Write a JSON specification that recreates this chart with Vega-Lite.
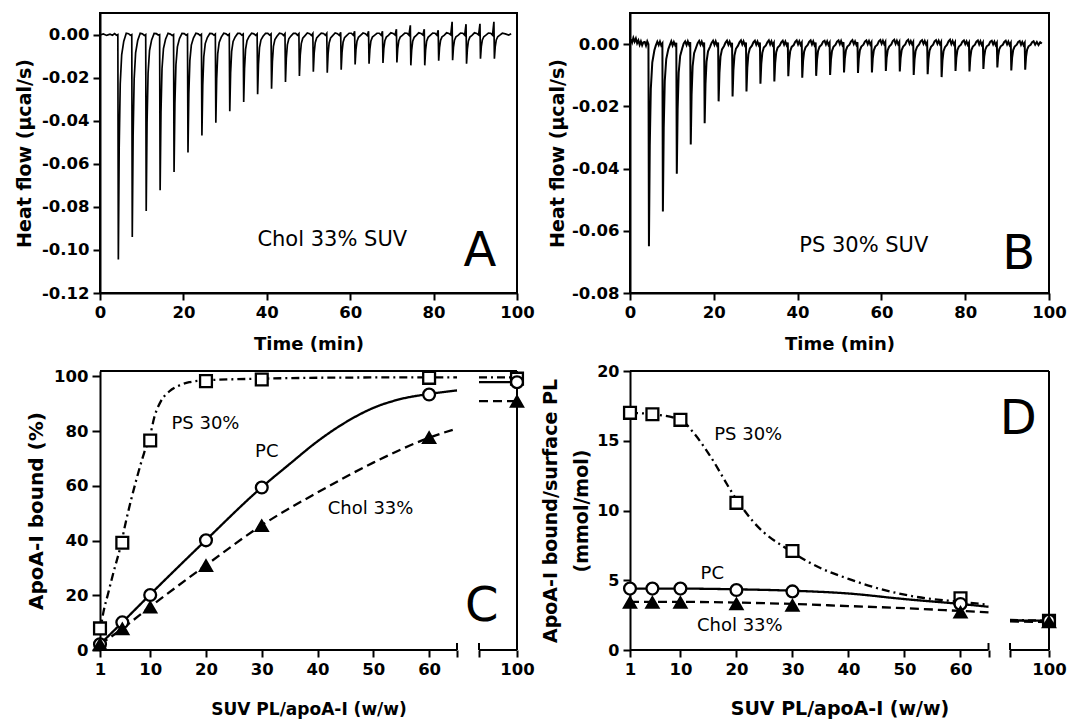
{
"$schema": "https://vega.github.io/schema/vega-lite/v6.json",
"padding": {"left": 14, "top": 12, "right": 5, "bottom": 2},
"columns": 2,
"spacing": {"row": 78, "column": 113},
"bounds": "flush",
"config": {
 "view": {"stroke": "black", "strokeWidth": 2},
 "font": "DejaVu Sans",
 "axis": {"domainColor": "black", "domainWidth": 2, "tickColor": "black", "tickWidth": 2, "tickSize": 7, "labelColor": "black", "labelFont": "DejaVu Sans", "labelFontSize": 16.5, "labelFontWeight": "bold", "labelPadding": 4, "labelFlush": false, "labelOverlap": false, "labelBound": false, "titleColor": "black", "titleFont": "DejaVu Sans", "titleFontSize": 18, "titleFontWeight": "bold", "grid": false},
 "text": {"color": "black", "font": "DejaVu Sans"},
 "locale": {"number": {"decimal": ".", "thousands": ",", "grouping": [3], "currency": ["$", ""], "minus": "-"}}
},
"datasets": {
"a": [
{"t":0,"v":-0.0002},{"t":0.8,"v":0.0003},{"t":1.6,"v":-0.0004},{"t":2.4,"v":0.0002},{"t":3.0,"v":-0.0003},
{"t":3.50,"v":0.0004},{"t":3.95,"v":-0.0003},{"t":4.28,"v":0},{"t":4.40,"v":-0.1045},{"t":4.60,"v":-0.0523},{"t":4.85,"v":-0.023},{"t":5.20,"v":-0.0094},{"t":5.70,"v":-0.0031},{"t":6.30,"v":0.0006},
{"t":6.84,"v":0.0004},{"t":7.29,"v":-0.0003},{"t":7.62,"v":0},{"t":7.74,"v":-0.094},{"t":7.94,"v":-0.047},{"t":8.19,"v":-0.0207},{"t":8.54,"v":-0.0085},{"t":9.04,"v":-0.0028},{"t":9.64,"v":0.0006},
{"t":10.18,"v":0.0003},{"t":10.63,"v":-0.0004},{"t":10.96,"v":0},{"t":11.08,"v":-0.0819},{"t":11.28,"v":-0.041},{"t":11.53,"v":-0.018},{"t":11.88,"v":-0.0074},{"t":12.38,"v":-0.0025},{"t":12.98,"v":0.0005},
{"t":13.52,"v":0.0004},{"t":13.97,"v":-0.0002},{"t":14.30,"v":0},{"t":14.42,"v":-0.0723},{"t":14.62,"v":-0.0362},{"t":14.87,"v":-0.0159},{"t":15.22,"v":-0.0065},{"t":15.72,"v":-0.0022},{"t":16.32,"v":0.0006},
{"t":16.86,"v":0.0002},{"t":17.31,"v":-0.0004},{"t":17.64,"v":0},{"t":17.76,"v":-0.0638},{"t":17.96,"v":-0.0319},{"t":18.21,"v":-0.014},{"t":18.56,"v":-0.0057},{"t":19.06,"v":-0.0019},{"t":19.66,"v":0.0005},
{"t":20.20,"v":0.0004},{"t":20.65,"v":-0.0003},{"t":20.98,"v":0.0001},{"t":21.10,"v":-0.0548},{"t":21.30,"v":-0.0274},{"t":21.55,"v":-0.0121},{"t":21.90,"v":-0.0049},{"t":22.40,"v":-0.0016},{"t":23.00,"v":0.0006},
{"t":23.54,"v":0.0003},{"t":23.99,"v":-0.0004},{"t":24.32,"v":0.0001},{"t":24.44,"v":-0.0469},{"t":24.64,"v":-0.0235},{"t":24.89,"v":-0.0103},{"t":25.24,"v":-0.0042},{"t":25.74,"v":-0.0014},{"t":26.34,"v":0.0005},
{"t":26.88,"v":0.0004},{"t":27.33,"v":-0.0003},{"t":27.66,"v":0.0002},{"t":27.78,"v":-0.0409},{"t":27.98,"v":-0.0205},{"t":28.23,"v":-0.009},{"t":28.58,"v":-0.0037},{"t":29.08,"v":-0.0012},{"t":29.68,"v":0.0006},
{"t":30.22,"v":0.0003},{"t":30.67,"v":-0.0004},{"t":31.00,"v":0.0002},{"t":31.12,"v":-0.0356},{"t":31.32,"v":-0.0178},{"t":31.57,"v":-0.0078},{"t":31.92,"v":-0.0032},{"t":32.42,"v":-0.0011},{"t":33.02,"v":0.0005},
{"t":33.56,"v":0.0005},{"t":34.01,"v":-0.0003},{"t":34.34,"v":0.0002},{"t":34.46,"v":-0.0313},{"t":34.66,"v":-0.0157},{"t":34.91,"v":-0.0069},{"t":35.26,"v":-0.0028},{"t":35.76,"v":-0.0009},{"t":36.36,"v":0.0006},
{"t":36.90,"v":0.0003},{"t":37.35,"v":-0.0004},{"t":37.68,"v":0.0003},{"t":37.80,"v":-0.0277},{"t":38.00,"v":-0.0139},{"t":38.25,"v":-0.0061},{"t":38.60,"v":-0.0025},{"t":39.10,"v":-0.0008},{"t":39.70,"v":0.0005},
{"t":40.24,"v":0.0005},{"t":40.69,"v":-0.0003},{"t":41.02,"v":0.0003},{"t":41.14,"v":-0.0252},{"t":41.34,"v":-0.0126},{"t":41.59,"v":-0.0055},{"t":41.94,"v":-0.0023},{"t":42.44,"v":-0.0008},{"t":43.04,"v":0.0006},
{"t":43.58,"v":0.0004},{"t":44.03,"v":-0.0004},{"t":44.36,"v":0.0004},{"t":44.48,"v":-0.022},{"t":44.68,"v":-0.011},{"t":44.93,"v":-0.0048},{"t":45.28,"v":-0.002},{"t":45.78,"v":-0.0007},{"t":46.38,"v":0.0005},
{"t":46.92,"v":0.0005},{"t":47.37,"v":-0.0003},{"t":47.70,"v":0.0004},{"t":47.82,"v":-0.0192},{"t":48.02,"v":-0.0096},{"t":48.27,"v":-0.0042},{"t":48.62,"v":-0.0017},{"t":49.12,"v":-0.0006},{"t":49.72,"v":0.0007},
{"t":50.26,"v":0.0004},{"t":50.71,"v":-0.0004},{"t":51.04,"v":0.0005},{"t":51.16,"v":-0.0173},{"t":51.36,"v":-0.0087},{"t":51.61,"v":-0.0038},{"t":51.96,"v":-0.0016},{"t":52.46,"v":-0.0005},{"t":53.06,"v":0.0006},
{"t":53.60,"v":0.0005},{"t":54.05,"v":-0.0003},{"t":54.38,"v":0.0006},{"t":54.50,"v":-0.0177},{"t":54.70,"v":-0.0089},{"t":54.95,"v":-0.0039},{"t":55.30,"v":-0.0016},{"t":55.80,"v":-0.0005},{"t":56.40,"v":0.0007},
{"t":56.94,"v":0.0004},{"t":57.39,"v":-0.0004},{"t":57.72,"v":0.001},{"t":57.84,"v":-0.0163},{"t":58.04,"v":-0.0082},{"t":58.29,"v":-0.0036},{"t":58.64,"v":-0.0015},{"t":59.14,"v":-0.0005},{"t":59.74,"v":0.0006},
{"t":60.28,"v":0.0006},{"t":60.73,"v":-0.0003},{"t":61.06,"v":0.0015},{"t":61.18,"v":-0.0139},{"t":61.38,"v":-0.007},{"t":61.63,"v":-0.0031},{"t":61.98,"v":-0.0013},{"t":62.48,"v":-0.0004},{"t":63.08,"v":0.0007},
{"t":63.62,"v":0.0004},{"t":64.07,"v":-0.0004},{"t":64.40,"v":0.0015},{"t":64.52,"v":-0.0135},{"t":64.72,"v":-0.0068},{"t":64.97,"v":-0.003},{"t":65.32,"v":-0.0012},{"t":65.82,"v":-0.0004},{"t":66.42,"v":0.0006},
{"t":66.96,"v":0.0006},{"t":67.41,"v":-0.0003},{"t":67.74,"v":0.0015},{"t":67.86,"v":-0.0132},{"t":68.06,"v":-0.0066},{"t":68.31,"v":-0.0029},{"t":68.66,"v":-0.0012},{"t":69.16,"v":-0.0004},{"t":69.76,"v":0.0008},
{"t":70.30,"v":0.0005},{"t":70.75,"v":-0.0002},{"t":71.08,"v":0.0025},{"t":71.20,"v":-0.013},{"t":71.40,"v":-0.0065},{"t":71.65,"v":-0.0029},{"t":72.00,"v":-0.0012},{"t":72.50,"v":-0.0004},{"t":73.10,"v":0.0007},
{"t":73.64,"v":0.0006},{"t":74.09,"v":-0.0003},{"t":74.42,"v":0.0043},{"t":74.54,"v":-0.0143},{"t":74.74,"v":-0.0072},{"t":74.99,"v":-0.0031},{"t":75.34,"v":-0.0013},{"t":75.84,"v":-0.0004},{"t":76.44,"v":0.0008},
{"t":76.98,"v":0.0005},{"t":77.43,"v":-0.0002},{"t":77.76,"v":0.0025},{"t":77.88,"v":-0.0143},{"t":78.08,"v":-0.0072},{"t":78.33,"v":-0.0031},{"t":78.68,"v":-0.0013},{"t":79.18,"v":-0.0004},{"t":79.78,"v":0.0007},
{"t":80.32,"v":0.0006},{"t":80.77,"v":-0.0003},{"t":81.10,"v":0.002},{"t":81.22,"v":-0.0122},{"t":81.42,"v":-0.0061},{"t":81.67,"v":-0.0027},{"t":82.02,"v":-0.0011},{"t":82.52,"v":-0.0004},{"t":83.12,"v":0.0008},
{"t":83.66,"v":0.0005},{"t":84.11,"v":-0.0002},{"t":84.44,"v":0.0059},{"t":84.56,"v":-0.0119},{"t":84.76,"v":-0.006},{"t":85.01,"v":-0.0026},{"t":85.36,"v":-0.0011},{"t":85.86,"v":-0.0004},{"t":86.46,"v":0.0007},
{"t":87.00,"v":0.0006},{"t":87.45,"v":-0.0003},{"t":87.78,"v":0.0048},{"t":87.90,"v":-0.0135},{"t":88.10,"v":-0.0068},{"t":88.35,"v":-0.003},{"t":88.70,"v":-0.0012},{"t":89.20,"v":-0.0004},{"t":89.80,"v":0.0008},
{"t":90.34,"v":0.0005},{"t":90.79,"v":-0.0002},{"t":91.12,"v":0.005},{"t":91.24,"v":-0.0112},{"t":91.44,"v":-0.0056},{"t":91.69,"v":-0.0025},{"t":92.04,"v":-0.001},{"t":92.54,"v":-0.0003},{"t":93.14,"v":0.0007},
{"t":93.68,"v":0.0006},{"t":94.13,"v":-0.0003},{"t":94.46,"v":0.0059},{"t":94.58,"v":-0.0112},{"t":94.78,"v":-0.0056},{"t":95.03,"v":-0.0025},{"t":95.38,"v":-0.001},{"t":95.88,"v":-0.0003},{"t":96.48,"v":0.0006},
{"t":97.2,"v":0.0003},{"t":98.0,"v":-0.0002},{"t":98.6,"v":0.0004}
],
"b": [
{"t":0.2,"v":0.0015},{"t":0.5,"v":0.0005},{"t":0.8,"v":0.002},{"t":1.1,"v":0.0008},{"t":1.4,"v":0.0018},{"t":1.7,"v":0.0003},{"t":2.0,"v":0.0012},{"t":2.3,"v":-0.0002},{"t":2.6,"v":0.0009},{"t":2.9,"v":-0.0004},{"t":3.2,"v":0.0006},
{"t":3.52,"v":0.0007},{"t":3.82,"v":-0.0005},{"t":4.12,"v":0.0009},{"t":4.40,"v":0},{"t":4.52,"v":-0.065},{"t":4.72,"v":-0.0325},{"t":4.97,"v":-0.0143},{"t":5.32,"v":-0.0059},{"t":5.82,"v":-0.002},{"t":6.17,"v":-0.0004},{"t":6.52,"v":0.0008},
{"t":6.85,"v":-0.0003},{"t":7.15,"v":0.0008},{"t":7.45,"v":-0.0004},{"t":7.73,"v":0.0002},{"t":7.85,"v":-0.0538},{"t":8.05,"v":-0.0269},{"t":8.30,"v":-0.0118},{"t":8.65,"v":-0.0048},{"t":9.15,"v":-0.0016},{"t":9.50,"v":-0.0003},{"t":9.85,"v":0.0009},
{"t":10.17,"v":-0.0004},{"t":10.47,"v":0.0007},{"t":10.77,"v":-0.0003},{"t":11.05,"v":0.0004},{"t":11.17,"v":-0.0417},{"t":11.37,"v":-0.0209},{"t":11.62,"v":-0.0092},{"t":11.97,"v":-0.0038},{"t":12.47,"v":-0.0013},{"t":12.82,"v":0.0002},{"t":13.17,"v":0.0009},
{"t":13.50,"v":-0.0003},{"t":13.80,"v":0.0009},{"t":14.10,"v":-0.0002},{"t":14.38,"v":0.0006},{"t":14.50,"v":-0.0323},{"t":14.70,"v":-0.0162},{"t":14.95,"v":-0.0071},{"t":15.30,"v":-0.0029},{"t":15.80,"v":-0.001},{"t":16.15,"v":0.0003},{"t":16.50,"v":0.001},
{"t":16.82,"v":-0.0002},{"t":17.12,"v":0.0008},{"t":17.42,"v":-0.0003},{"t":17.70,"v":0.0005},{"t":17.82,"v":-0.0254},{"t":18.02,"v":-0.0127},{"t":18.27,"v":-0.0056},{"t":18.62,"v":-0.0023},{"t":19.12,"v":-0.0008},{"t":19.47,"v":0.0004},{"t":19.82,"v":0.0011},
{"t":20.15,"v":-0.0002},{"t":20.45,"v":0.0009},{"t":20.75,"v":-0.0003},{"t":21.03,"v":0.0005},{"t":21.15,"v":-0.0184},{"t":21.35,"v":-0.0092},{"t":21.60,"v":-0.004},{"t":21.95,"v":-0.0017},{"t":22.45,"v":-0.0006},{"t":22.80,"v":0.0005},{"t":23.15,"v":0.0011},
{"t":23.48,"v":-0.0002},{"t":23.78,"v":0.0008},{"t":24.08,"v":-0.0004},{"t":24.36,"v":0.0004},{"t":24.48,"v":-0.0168},{"t":24.68,"v":-0.0084},{"t":24.93,"v":-0.0037},{"t":25.28,"v":-0.0015},{"t":25.78,"v":-0.0005},{"t":26.13,"v":0.0006},{"t":26.48,"v":0.0012},
{"t":26.80,"v":-0.0001},{"t":27.10,"v":0.0009},{"t":27.40,"v":-0.0003},{"t":27.68,"v":0.0005},{"t":27.80,"v":-0.0152},{"t":28.00,"v":-0.0076},{"t":28.25,"v":-0.0033},{"t":28.60,"v":-0.0014},{"t":29.10,"v":-0.0005},{"t":29.45,"v":0.0006},{"t":29.80,"v":0.0011},
{"t":30.13,"v":-0.0002},{"t":30.43,"v":0.0008},{"t":30.73,"v":-0.0003},{"t":31.01,"v":0.0005},{"t":31.13,"v":-0.0127},{"t":31.33,"v":-0.0064},{"t":31.58,"v":-0.0028},{"t":31.93,"v":-0.0011},{"t":32.43,"v":-0.0004},{"t":32.78,"v":0.0006},{"t":33.13,"v":0.0012},
{"t":33.45,"v":-0.0001},{"t":33.75,"v":0.0009},{"t":34.05,"v":-0.0003},{"t":34.33,"v":0.0004},{"t":34.45,"v":-0.012},{"t":34.65,"v":-0.006},{"t":34.90,"v":-0.0026},{"t":35.25,"v":-0.0011},{"t":35.75,"v":-0.0004},{"t":36.10,"v":0.0006},{"t":36.45,"v":0.0011},
{"t":36.78,"v":-0.0002},{"t":37.08,"v":0.0008},{"t":37.38,"v":-0.0003},{"t":37.66,"v":0.0005},{"t":37.78,"v":-0.0103},{"t":37.98,"v":-0.0052},{"t":38.23,"v":-0.0023},{"t":38.58,"v":-0.0009},{"t":39.08,"v":-0.0003},{"t":39.43,"v":0.0007},{"t":39.78,"v":0.0012},
{"t":40.11,"v":-0.0001},{"t":40.41,"v":0.0009},{"t":40.71,"v":-0.0002},{"t":40.99,"v":0.0005},{"t":41.11,"v":-0.0108},{"t":41.31,"v":-0.0054},{"t":41.56,"v":-0.0024},{"t":41.91,"v":-0.001},{"t":42.41,"v":-0.0003},{"t":42.76,"v":0.0007},{"t":43.11,"v":0.0012},
{"t":43.43,"v":-0.0001},{"t":43.73,"v":0.0009},{"t":44.03,"v":-0.0003},{"t":44.31,"v":0.0005},{"t":44.43,"v":-0.0102},{"t":44.63,"v":-0.0051},{"t":44.88,"v":-0.0022},{"t":45.23,"v":-0.0009},{"t":45.73,"v":-0.0002},{"t":46.08,"v":0.0008},{"t":46.43,"v":0.0011},
{"t":46.76,"v":-0.0001},{"t":47.06,"v":0.0009},{"t":47.36,"v":-0.0002},{"t":47.64,"v":0.0005},{"t":47.76,"v":-0.0099},{"t":47.96,"v":-0.005},{"t":48.21,"v":-0.0022},{"t":48.56,"v":-0.0009},{"t":49.06,"v":-0.0002},{"t":49.41,"v":0.0008},{"t":49.76,"v":0.0012},
{"t":50.08,"v":0},{"t":50.38,"v":0.001},{"t":50.68,"v":-0.0002},{"t":50.96,"v":0.0006},{"t":51.08,"v":-0.0091},{"t":51.28,"v":-0.0046},{"t":51.53,"v":-0.002},{"t":51.88,"v":-0.0008},{"t":52.38,"v":-0.0002},{"t":52.73,"v":0.0008},{"t":53.08,"v":0.0013},
{"t":53.41,"v":0},{"t":53.71,"v":0.0009},{"t":54.01,"v":-0.0002},{"t":54.29,"v":0.0006},{"t":54.41,"v":-0.0093},{"t":54.61,"v":-0.0047},{"t":54.86,"v":-0.002},{"t":55.21,"v":-0.0008},{"t":55.71,"v":-0.0002},{"t":56.06,"v":0.0008},{"t":56.41,"v":0.0012},
{"t":56.74,"v":0},{"t":57.04,"v":0.001},{"t":57.34,"v":-0.0001},{"t":57.62,"v":0.0006},{"t":57.74,"v":-0.0091},{"t":57.94,"v":-0.0046},{"t":58.19,"v":-0.002},{"t":58.54,"v":-0.0008},{"t":59.04,"v":-0.0002},{"t":59.39,"v":0.0009},{"t":59.74,"v":0.0013},
{"t":60.06,"v":0.0001},{"t":60.36,"v":0.0011},{"t":60.66,"v":0},{"t":60.94,"v":0.0007},{"t":61.06,"v":-0.0086},{"t":61.26,"v":-0.0043},{"t":61.51,"v":-0.0019},{"t":61.86,"v":-0.0008},{"t":62.36,"v":-0.0001},{"t":62.71,"v":0.001},{"t":63.06,"v":0.0014},
{"t":63.39,"v":0.0001},{"t":63.69,"v":0.0011},{"t":63.99,"v":0},{"t":64.27,"v":0.0007},{"t":64.39,"v":-0.0088},{"t":64.59,"v":-0.0044},{"t":64.84,"v":-0.0019},{"t":65.19,"v":-0.0008},{"t":65.69,"v":-0.0001},{"t":66.04,"v":0.001},{"t":66.39,"v":0.0014},
{"t":66.71,"v":0.0001},{"t":67.01,"v":0.001},{"t":67.31,"v":0},{"t":67.59,"v":0.0007},{"t":67.71,"v":-0.0099},{"t":67.91,"v":-0.005},{"t":68.16,"v":-0.0022},{"t":68.51,"v":-0.0009},{"t":69.01,"v":-0.0001},{"t":69.36,"v":0.0009},{"t":69.71,"v":0.0013},
{"t":70.04,"v":0.0001},{"t":70.34,"v":0.001},{"t":70.64,"v":-0.0001},{"t":70.92,"v":0.0006},{"t":71.04,"v":-0.0097},{"t":71.24,"v":-0.0049},{"t":71.49,"v":-0.0021},{"t":71.84,"v":-0.0009},{"t":72.34,"v":-0.0002},{"t":72.69,"v":0.0009},{"t":73.04,"v":0.0013},
{"t":73.37,"v":0.0001},{"t":73.67,"v":0.0011},{"t":73.97,"v":0},{"t":74.25,"v":0.0007},{"t":74.37,"v":-0.0106},{"t":74.57,"v":-0.0053},{"t":74.82,"v":-0.0023},{"t":75.17,"v":-0.001},{"t":75.67,"v":-0.0002},{"t":76.02,"v":0.0009},{"t":76.37,"v":0.0014},
{"t":76.69,"v":0},{"t":76.99,"v":0.001},{"t":77.29,"v":-0.0001},{"t":77.57,"v":0.0006},{"t":77.69,"v":-0.0086},{"t":77.89,"v":-0.0043},{"t":78.14,"v":-0.0019},{"t":78.49,"v":-0.0008},{"t":78.99,"v":-0.0002},{"t":79.34,"v":0.0008},{"t":79.69,"v":0.0012},
{"t":80.02,"v":0},{"t":80.32,"v":0.0009},{"t":80.62,"v":-0.0002},{"t":80.90,"v":0.0005},{"t":81.02,"v":-0.0088},{"t":81.22,"v":-0.0044},{"t":81.47,"v":-0.0019},{"t":81.82,"v":-0.0008},{"t":82.32,"v":-0.0002},{"t":82.67,"v":0.0008},{"t":83.02,"v":0.0012},
{"t":83.34,"v":-0.0001},{"t":83.64,"v":0.0009},{"t":83.94,"v":-0.0002},{"t":84.22,"v":0.0005},{"t":84.34,"v":-0.008},{"t":84.54,"v":-0.004},{"t":84.79,"v":-0.0018},{"t":85.14,"v":-0.0007},{"t":85.64,"v":-0.0002},{"t":85.99,"v":0.0008},{"t":86.34,"v":0.0011},
{"t":86.67,"v":-0.0001},{"t":86.97,"v":0.0008},{"t":87.27,"v":-0.0003},{"t":87.55,"v":0.0004},{"t":87.67,"v":-0.0075},{"t":87.87,"v":-0.0038},{"t":88.12,"v":-0.0017},{"t":88.47,"v":-0.0007},{"t":88.97,"v":-0.0002},{"t":89.32,"v":0.0007},{"t":89.67,"v":0.0011},
{"t":90.00,"v":-0.0001},{"t":90.30,"v":0.0008},{"t":90.60,"v":-0.0003},{"t":90.88,"v":0.0004},{"t":91.00,"v":-0.0085},{"t":91.20,"v":-0.0043},{"t":91.45,"v":-0.0019},{"t":91.80,"v":-0.0008},{"t":92.30,"v":-0.0002},{"t":92.65,"v":0.0007},{"t":93.00,"v":0.001},
{"t":93.32,"v":-0.0002},{"t":93.62,"v":0.0007},{"t":93.92,"v":-0.0003},{"t":94.20,"v":0.0004},{"t":94.32,"v":-0.0082},{"t":94.52,"v":-0.0041},{"t":94.77,"v":-0.0018},{"t":95.12,"v":-0.0007},{"t":95.62,"v":-0.0002},{"t":95.97,"v":0.0006},{"t":96.32,"v":0.0009},
{"t":96.7,"v":-0.0002},{"t":97.1,"v":0.0007},{"t":97.5,"v":-0.0003},{"t":97.9,"v":0.0006},{"t":98.3,"v":0.0002}
],
"cpts": [
{"s":"PS","x":1,"y":7.9},{"s":"PS","x":5,"y":39.2},{"s":"PS","x":10,"y":76.6},{"s":"PS","x":20,"y":98.3},{"s":"PS","x":30,"y":98.9},{"s":"PS","x":60,"y":99.5},{"s":"PS","x":100,"y":99.2},
{"s":"PC","x":1,"y":2.1},{"s":"PC","x":5,"y":10.1},{"s":"PC","x":10,"y":20.1},{"s":"PC","x":20,"y":40.1},{"s":"PC","x":30,"y":59.4},{"s":"PC","x":60,"y":93.4},{"s":"PC","x":100,"y":97.9},
{"s":"Chol","x":1,"y":2.0},{"s":"Chol","x":5,"y":7.7},{"s":"Chol","x":10,"y":15.6},{"s":"Chol","x":20,"y":30.8},{"s":"Chol","x":30,"y":45.4},{"s":"Chol","x":60,"y":77.6},{"s":"Chol","x":100,"y":90.9}
],
"ccurve": [
{"s":"PS","seg":1,"x":1,"y":6},{"s":"PS","seg":1,"x":1.45,"y":12},{"s":"PS","seg":1,"x":2.5,"y":21},{"s":"PS","seg":1,"x":3.5,"y":29},{"s":"PS","seg":1,"x":4.7,"y":38},{"s":"PS","seg":1,"x":5.64,"y":46.9},{"s":"PS","seg":1,"x":7.43,"y":61.6},{"s":"PS","seg":1,"x":8.9,"y":72},{"s":"PS","seg":1,"x":10,"y":78.5},{"s":"PS","seg":1,"x":10.7,"y":84.8},{"s":"PS","seg":1,"x":11.9,"y":90.9},{"s":"PS","seg":1,"x":13.4,"y":94.5},{"s":"PS","seg":1,"x":15.2,"y":96.7},{"s":"PS","seg":1,"x":17,"y":97.9},{"s":"PS","seg":1,"x":20,"y":98.6},{"s":"PS","seg":1,"x":30,"y":99.2},{"s":"PS","seg":1,"x":45,"y":99.6},{"s":"PS","seg":1,"x":65,"y":99.7},
{"s":"PS","seg":2,"x":93,"y":99.7},{"s":"PS","seg":2,"x":100,"y":99.7},
{"s":"PC","seg":1,"x":1,"y":2.1},{"s":"PC","seg":1,"x":5,"y":10.1},{"s":"PC","seg":1,"x":10,"y":20.3},{"s":"PC","seg":1,"x":20,"y":40.2},{"s":"PC","seg":1,"x":30,"y":59.5},{"s":"PC","seg":1,"x":35,"y":68},{"s":"PC","seg":1,"x":40,"y":76.3},{"s":"PC","seg":1,"x":45,"y":83.2},{"s":"PC","seg":1,"x":50,"y":88.5},{"s":"PC","seg":1,"x":55,"y":91.8},{"s":"PC","seg":1,"x":60,"y":93.6},{"s":"PC","seg":1,"x":65,"y":94.9},
{"s":"PC","seg":2,"x":93,"y":97.9},{"s":"PC","seg":2,"x":100,"y":97.9},
{"s":"Chol","seg":1,"x":1,"y":2},{"s":"Chol","seg":1,"x":5,"y":7.8},{"s":"Chol","seg":1,"x":10,"y":15.8},{"s":"Chol","seg":1,"x":20,"y":31},{"s":"Chol","seg":1,"x":30,"y":45.6},{"s":"Chol","seg":1,"x":40,"y":57.6},{"s":"Chol","seg":1,"x":50,"y":68.5},{"s":"Chol","seg":1,"x":60,"y":77.6},{"s":"Chol","seg":1,"x":65,"y":81},
{"s":"Chol","seg":2,"x":93,"y":91},{"s":"Chol","seg":2,"x":100,"y":91}
],
"cframe": [
{"x":1,"x2":100,"y":102,"y2":102},{"x":100,"x2":100,"y":0,"y2":102},{"x":1,"x2":65,"y":0,"y2":0},{"x":93,"x2":100,"y":0,"y2":0},{"x":65,"x2":65,"y":0,"y2":2.6},{"x":93,"x2":93,"y":0,"y2":2.6}
],
"ctext": [
{"x":19.9,"y":82.7,"label":"PS 30%"},{"x":30.9,"y":72.4,"label":"PC"},{"x":49.5,"y":51.5,"label":"Chol 33%"}
],
"dpts": [
{"s":"PS","x":1,"y":17.0},{"s":"PS","x":5,"y":16.9},{"s":"PS","x":10,"y":16.5},{"s":"PS","x":20,"y":10.55},{"s":"PS","x":30,"y":7.1},{"s":"PS","x":60,"y":3.7},{"s":"PS","x":100,"y":2.1},
{"s":"PC","x":1,"y":4.4},{"s":"PC","x":5,"y":4.4},{"s":"PC","x":10,"y":4.4},{"s":"PC","x":20,"y":4.3},{"s":"PC","x":30,"y":4.2},{"s":"PC","x":60,"y":3.3},{"s":"PC","x":100,"y":2.1},
{"s":"Chol","x":1,"y":3.4},{"s":"Chol","x":5,"y":3.4},{"s":"Chol","x":10,"y":3.4},{"s":"Chol","x":20,"y":3.3},{"s":"Chol","x":30,"y":3.2},{"s":"Chol","x":60,"y":2.7},{"s":"Chol","x":100,"y":2.0}
],
"dcurve": [
{"s":"PS","seg":1,"x":1,"y":17},{"s":"PS","seg":1,"x":5,"y":16.9},{"s":"PS","seg":1,"x":10,"y":16.5},{"s":"PS","seg":1,"x":12.5,"y":15.5},{"s":"PS","seg":1,"x":15,"y":14.1},{"s":"PS","seg":1,"x":20,"y":10.8},{"s":"PS","seg":1,"x":23,"y":9.2},{"s":"PS","seg":1,"x":30,"y":7.0},{"s":"PS","seg":1,"x":35.4,"y":5.8},{"s":"PS","seg":1,"x":40,"y":5.1},{"s":"PS","seg":1,"x":44.6,"y":4.5},{"s":"PS","seg":1,"x":50.8,"y":3.9},{"s":"PS","seg":1,"x":60,"y":3.45},{"s":"PS","seg":1,"x":65,"y":3.25},
{"s":"PS","seg":2,"x":93,"y":2.15},{"s":"PS","seg":2,"x":100,"y":2.1},
{"s":"PC","seg":1,"x":1,"y":4.4},{"s":"PC","seg":1,"x":10,"y":4.4},{"s":"PC","seg":1,"x":20,"y":4.35},{"s":"PC","seg":1,"x":30,"y":4.25},{"s":"PC","seg":1,"x":40,"y":4.05},{"s":"PC","seg":1,"x":50,"y":3.65},{"s":"PC","seg":1,"x":60,"y":3.3},{"s":"PC","seg":1,"x":65,"y":3.1},
{"s":"PC","seg":2,"x":93,"y":2.12},{"s":"PC","seg":2,"x":100,"y":2.1},
{"s":"Chol","seg":1,"x":1,"y":3.45},{"s":"Chol","seg":1,"x":10,"y":3.45},{"s":"Chol","seg":1,"x":20,"y":3.4},{"s":"Chol","seg":1,"x":30,"y":3.3},{"s":"Chol","seg":1,"x":40,"y":3.15},{"s":"Chol","seg":1,"x":50,"y":3.0},{"s":"Chol","seg":1,"x":60,"y":2.8},{"s":"Chol","seg":1,"x":65,"y":2.7},
{"s":"Chol","seg":2,"x":93,"y":2.05},{"s":"Chol","seg":2,"x":100,"y":2.0}
],
"dframe": [
{"x":1,"x2":100,"y":20,"y2":20},{"x":100,"x2":100,"y":0,"y2":20},{"x":1,"x2":65,"y":0,"y2":0},{"x":93,"x2":100,"y":0,"y2":0},{"x":65,"x2":65,"y":0,"y2":0.5},{"x":93,"x2":93,"y":0,"y2":0.5}
],
"dtext": [
{"x":22.1,"y":15.4,"label":"PS 30%"},{"x":15.7,"y":5.42,"label":"PC"},{"x":20.6,"y":1.72,"label":"Chol 33%"}
]
},
"concat": [
{
 "width": 417, "height": 280,
 "encoding": {
  "x": {"field": "t", "type": "quantitative", "scale": {"domain": [0, 100], "nice": false}, "axis": {"values": [0, 20, 40, 60, 80, 100], "title": "Time (min)", "titlePadding": 15}},
  "y": {"field": "v", "type": "quantitative", "scale": {"domain": [-0.12, 0.01], "nice": false, "zero": false}, "axis": {"values": [-0.12, -0.1, -0.08, -0.06, -0.04, -0.02, 0], "format": ".2f", "title": "Heat flow (µcal/s)", "titleFontSize": 19, "titlePadding": 7}}
 },
 "layer": [
  {"data": {"name": "a"}, "mark": {"type": "line", "color": "black", "strokeWidth": 1.7}},
  {"data": {"values": [{"t": 55.7, "v": -0.0952, "label": "Chol 33% SUV"}]}, "mark": {"type": "text", "fontSize": 21}, "encoding": {"text": {"field": "label"}}},
  {"data": {"values": [{"t": 91.1, "v": -0.101, "label": "A"}]}, "mark": {"type": "text", "fontSize": 48}, "encoding": {"text": {"field": "label"}}}
 ]
},
{
 "width": 419, "height": 280,
 "encoding": {
  "x": {"field": "t", "type": "quantitative", "scale": {"domain": [0, 100], "nice": false}, "axis": {"values": [0, 20, 40, 60, 80, 100], "title": "Time (min)", "titlePadding": 15}},
  "y": {"field": "v", "type": "quantitative", "scale": {"domain": [-0.08, 0.01], "nice": false, "zero": false}, "axis": {"values": [-0.08, -0.06, -0.04, -0.02, 0], "format": ".2f", "title": "Heat flow (µcal/s)", "titleFontSize": 19, "titlePadding": 4}}
 },
 "layer": [
  {"data": {"name": "b"}, "mark": {"type": "line", "color": "black", "strokeWidth": 2}},
  {"data": {"values": [{"t": 55.8, "v": -0.0648, "label": "PS 30% SUV"}]}, "mark": {"type": "text", "fontSize": 21}, "encoding": {"text": {"field": "label"}}},
  {"data": {"values": [{"t": 92.8, "v": -0.0677, "label": "B"}]}, "mark": {"type": "text", "fontSize": 48}, "encoding": {"text": {"field": "label"}}}
 ]
},
{
 "width": 417, "height": 279,
 "view": {"stroke": null},
 "encoding": {
  "x": {"field": "x", "type": "quantitative", "scale": {"domain": [1, 65, 93, 100], "range": [0, 357, 379, 417], "nice": false, "zero": false}, "axis": {"values": [1, 10, 20, 30, 40, 50, 60, 65, 93, 100], "labelExpr": "datum.value == 65 || datum.value == 93 ? '' : datum.label", "domain": false, "title": "SUV PL/apoA-I (w/w)", "titleFontSize": 17, "titlePadding": 24}},
  "y": {"field": "y", "type": "quantitative", "scale": {"domain": [0, 102], "nice": false}, "axis": {"values": [0, 20, 40, 60, 80, 100], "title": "ApoA-I bound (%)", "titleFontSize": 20, "titlePadding": 7, "tickSize": 8}}
 },
 "layer": [
  {"data": {"name": "cframe"}, "mark": {"type": "rule", "color": "black", "strokeWidth": 2}, "encoding": {"x2": {"field": "x2"}, "y2": {"field": "y2"}}},
  {"data": {"name": "ccurve"}, "mark": {"type": "line", "color": "black", "strokeWidth": 2.3, "interpolate": "monotone"}, "encoding": {"strokeDash": {"field": "s", "type": "nominal", "scale": {"domain": ["PS", "PC", "Chol"], "range": [[8, 4, 2, 4], [1, 0], [9, 5]]}, "legend": null}, "detail": {"field": "seg", "type": "nominal"}}},
  {"data": {"name": "cpts"}, "mark": {"type": "point", "filled": true, "stroke": "black", "strokeWidth": 2.3, "size": 140, "opacity": 1}, "encoding": {"shape": {"field": "s", "type": "nominal", "scale": {"domain": ["PS", "PC", "Chol"], "range": ["square", "circle", "triangle-up"]}, "legend": null}, "fill": {"field": "s", "type": "nominal", "scale": {"domain": ["PS", "PC", "Chol"], "range": ["white", "white", "black"]}, "legend": null}}},
  {"data": {"name": "ctext"}, "mark": {"type": "text", "fontSize": 18}, "encoding": {"text": {"field": "label"}}},
  {"data": {"values": [{"x": 93.5, "y": 15.8, "label": "C"}]}, "mark": {"type": "text", "fontSize": 48}, "encoding": {"text": {"field": "label"}}}
 ]
},
{
 "width": 419, "height": 279,
 "view": {"stroke": null},
 "encoding": {
  "x": {"field": "x", "type": "quantitative", "scale": {"domain": [1, 65, 93, 100], "range": [0, 358.5, 380, 419], "nice": false, "zero": false}, "axis": {"values": [1, 10, 20, 30, 40, 50, 60, 65, 93, 100], "labelExpr": "datum.value == 65 || datum.value == 93 ? '' : datum.label", "domain": false, "title": "SUV PL/apoA-I (w/w)", "titleFontSize": 19, "titlePadding": 22}},
  "y": {"field": "y", "type": "quantitative", "scale": {"domain": [0, 20], "nice": false}, "axis": {"values": [0, 5, 10, 15, 20], "title": ["ApoA-I bound/surface PL", "(mmol/mol)"], "titleFontSize": 19, "titleLineHeight": 31, "titlePadding": 5, "labelFontSize": 16}}
 },
 "layer": [
  {"data": {"name": "dframe"}, "mark": {"type": "rule", "color": "black", "strokeWidth": 2}, "encoding": {"x2": {"field": "x2"}, "y2": {"field": "y2"}}},
  {"data": {"name": "dcurve"}, "mark": {"type": "line", "color": "black", "strokeWidth": 2.3, "interpolate": "monotone"}, "encoding": {"strokeDash": {"field": "s", "type": "nominal", "scale": {"domain": ["PS", "PC", "Chol"], "range": [[8, 4, 2, 4], [1, 0], [9, 5]]}, "legend": null}, "detail": {"field": "seg", "type": "nominal"}}},
  {"data": {"name": "dpts"}, "mark": {"type": "point", "filled": true, "stroke": "black", "strokeWidth": 2.3, "size": 140, "opacity": 1}, "encoding": {"shape": {"field": "s", "type": "nominal", "scale": {"domain": ["PS", "PC", "Chol"], "range": ["square", "circle", "triangle-up"]}, "legend": null}, "fill": {"field": "s", "type": "nominal", "scale": {"domain": ["PS", "PC", "Chol"], "range": ["white", "white", "black"]}, "legend": null}}},
  {"data": {"name": "dtext"}, "mark": {"type": "text", "fontSize": 18}, "encoding": {"text": {"field": "label"}}},
  {"data": {"values": [{"x": 94.5, "y": 16.5, "label": "D"}]}, "mark": {"type": "text", "fontSize": 48}, "encoding": {"text": {"field": "label"}}}
 ]
}
]
}
